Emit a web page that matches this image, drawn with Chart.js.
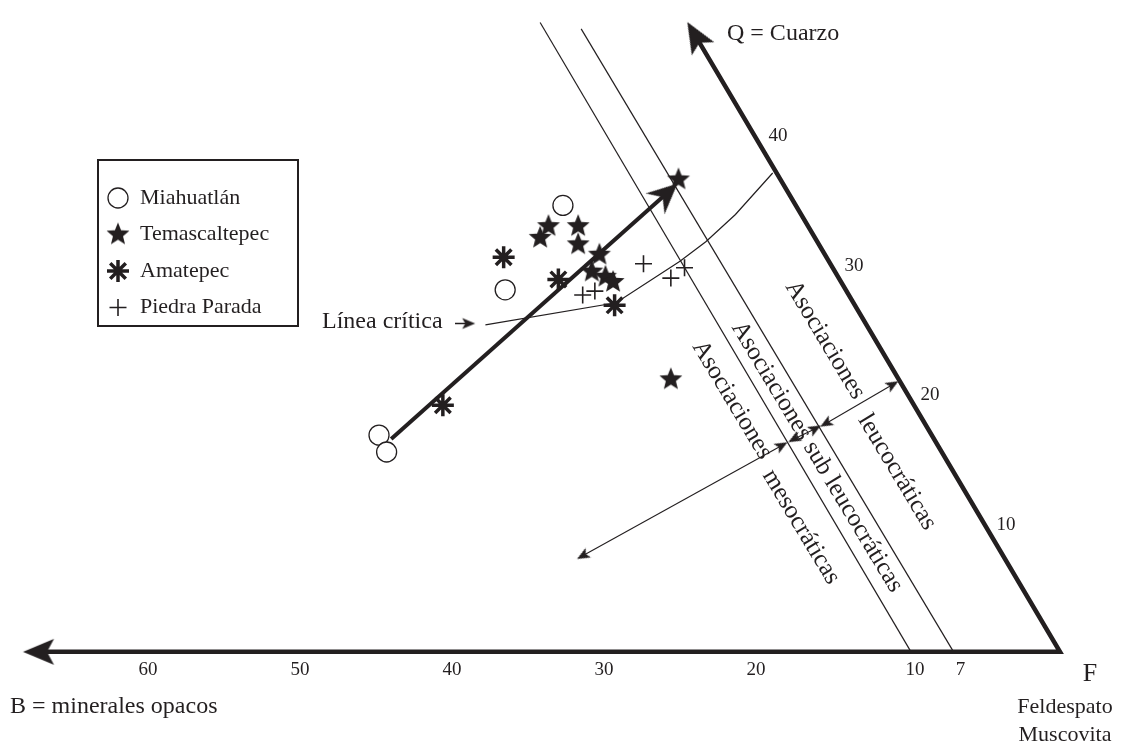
<!DOCTYPE html>
<html>
<head>
<meta charset="utf-8">
<script src="https://cdn.jsdelivr.net/npm/chart.js@4.4.1/dist/chart.umd.min.js"></script>
<style>
  html, body { margin: 0; padding: 0; background: #fff; }
  #wrap { width: 1130px; height: 750px; }
</style>
</head>
<body>
<div id="wrap"><canvas id="qbf" width="1130" height="750"></canvas></div>
<script>
// diagram units: x = horizontal position read on the B scale, y = height read on the Q scale
const miahuatlan = [{x: 32.7, y: 34.4}, {x: 36.5, y: 27.9}, {x: 44.8, y: 16.7}, {x: 44.3, y: 15.4}];
const temascaltepec = [
  {x: 33.65, y: 32.8}, {x: 34.2, y: 31.9}, {x: 31.7, y: 32.8}, {x: 31.7, y: 31.4},
  {x: 30.3, y: 30.6}, {x: 30.8, y: 29.3}, {x: 29.9, y: 28.9}, {x: 29.4, y: 28.5},
  {x: 25.1, y: 36.4}, {x: 25.6, y: 21.0}
];
const amatepec = [{x: 36.6, y: 30.4}, {x: 33.0, y: 28.7}, {x: 29.3, y: 26.7}, {x: 40.6, y: 19.0}];
const piedraParada = [{x: 27.4, y: 29.9}, {x: 31.4, y: 27.5}, {x: 30.6, y: 27.8}, {x: 25.6, y: 28.8}, {x: 24.7, y: 29.6}];

const axesBQ = [{x: 67.2, y: 0}, {x: 0, y: 0}, {x: 24.0, y: 47.5}];
const line10 = [{x: 9.8, y: 0}, {x: 34.2, y: 48.5}];
const line7 = [{x: 7.0, y: 0}, {x: 31.5, y: 48.0}];
const lineaCritica = [{x: 37.8, y: 25.2}, {x: 29.2, y: 26.9}, {x: 25.0, y: 30.1}, {x: 23.3, y: 31.6}, {x: 21.35, y: 33.7}, {x: 18.9, y: 36.9}];
const tendencia = [{x: 44.0, y: 16.4}, {x: 25.9, y: 35.3}];
const flechaCritica = [{x: 39.8, y: 25.3}, {x: 38.9, y: 25.3}];
const flechaLeuco = [{x: 15.4, y: 17.6}, {x: 11.0, y: 20.6}];
const flechaSubLeuco = [{x: 17.5, y: 16.4}, {x: 16.1, y: 17.2}];
const flechaMeso = [{x: 31.4, y: 7.4}, {x: 18.3, y: 15.9}];

const bTicks = [60, 50, 40, 30, 20, 10, 7];
const qTicks = [40, 30, 20, 10];
const legendNames = ['Miahuatlán', 'Temascaltepec', 'Amatepec', 'Piedra Parada'];

const ink = '#231f20';
const serif = '"Liberation Serif", "Times New Roman", serif';

function starImage(r) {
  const c = document.createElement('canvas');
  c.width = c.height = Math.ceil(r * 2) + 2;
  const g = c.getContext('2d');
  const m = c.width / 2;
  g.fillStyle = ink;
  g.beginPath();
  for (let i = 0; i < 10; i++) {
    const rr = i % 2 ? r * 0.44 : r;
    const a = -Math.PI / 2 + i * Math.PI / 5;
    g.lineTo(m + rr * Math.cos(a), m + rr * Math.sin(a));
  }
  g.closePath();
  g.fill();
  return c;
}

// arrowhead pointing up, its middle at the canvas centre
function arrowImage(len, half, notch) {
  const c = document.createElement('canvas');
  c.width = c.height = Math.ceil(len * 2) + 4;
  const g = c.getContext('2d');
  const m = c.width / 2;
  g.fillStyle = ink;
  g.beginPath();
  g.moveTo(m, m - len / 2);
  g.lineTo(m + half, m + len / 2);
  g.lineTo(m, m + len / 2 - notch);
  g.lineTo(m - half, m + len / 2);
  g.closePath();
  g.fill();
  return c;
}

const star = starImage(12);
const bigArrow = arrowImage(31, 13, 7);
const mainArrow = arrowImage(30, 14, 10);
const smallArrow = arrowImage(13, 5.5, 3);

const styleOf = [
  {pointStyle: 'circle', radius: 10, borderWidth: 1.3, fill: '#fff'},
  {pointStyle: star, radius: 12, borderWidth: 0, fill: ink},
  {pointStyle: 'star', radius: 11, borderWidth: 3.5, fill: ink},
  {pointStyle: 'cross', radius: 8.5, borderWidth: 1.6, fill: ink}
];

function pointSet(label, data, s) {
  return {
    label, data, order: 0,
    pointStyle: s.pointStyle, pointRadius: s.radius,
    pointBorderWidth: s.borderWidth, pointBackgroundColor: s.fill, pointBorderColor: ink
  };
}

function lineSet(data, width, extra) {
  return Object.assign({
    data, showLine: true, order: 2, borderColor: ink, borderWidth: width,
    borderCapStyle: 'butt', borderJoinStyle: 'miter', pointRadius: 0, tension: 0
  }, extra || {});
}

function arrowEnds(img, rotations, radii) {
  return {pointStyle: img, pointRadius: radii, pointRotation: rotations, order: 1};
}

const notes = {
  id: 'notes',
  afterDatasetsDraw(chart) {
    const {ctx} = chart;
    const sx = chart.scales.x, sy = chart.scales.y;
    ctx.save();
    ctx.fillStyle = ink;
    ctx.textBaseline = 'middle';

    // B scale
    ctx.textAlign = 'center';
    ctx.font = '19px ' + serif;
    bTicks.forEach(t => ctx.fillText(String(t), sx.getPixelForValue(t) + (t < 15 ? 7 : 0), sy.getPixelForValue(0) + 18));
    // Q scale, along the slanted side
    qTicks.forEach(t => ctx.fillText(String(t), sx.getPixelForValue(t / 2) + 22, sy.getPixelForValue(t) + 3));

    ctx.font = '24px ' + serif;
    ctx.textAlign = 'left';
    ctx.fillText('Q = Cuarzo', 727, 34);
    ctx.fillText('B = minerales opacos', 10, 707);
    ctx.fillText('Línea crítica', 322, 322);
    ctx.textAlign = 'center';
    ctx.font = '26px ' + serif;
    ctx.fillText('F', 1090, 674);
    ctx.font = '22px ' + serif;
    ctx.fillText('Feldespato', 1065, 707);
    ctx.fillText('Muscovita', 1065, 735);

    // zone names, written along the lines
    ctx.font = '25px ' + serif;
    [['Asociaciones', 825, 340], ['leucocráticas', 897, 472],
     ['Asociaciones sub leucocráticas', 817, 457],
     ['Asociaciones', 732, 400], ['mesocráticas', 801, 527]].forEach(([t, cx, cy]) => {
      ctx.save();
      ctx.translate(cx, cy);
      ctx.rotate(59 * Math.PI / 180);
      ctx.fillText(t, 0, 0);
      ctx.restore();
    });

    // legend box
    const box = {l: 98, t: 160, r: 298, b: 326};
    ctx.lineWidth = 2;
    ctx.strokeStyle = ink;
    ctx.strokeRect(box.l, box.t, box.r - box.l, box.b - box.t);
    ctx.font = '22px ' + serif;
    ctx.textAlign = 'left';
    legendNames.forEach((name, i) => {
      const cy = 198 + i * 36.5;
      const s = styleOf[i];
      ctx.fillStyle = s.fill;
      ctx.strokeStyle = ink;
      ctx.lineWidth = s.borderWidth;
      Chart.helpers.drawPoint(ctx, {pointStyle: s.pointStyle, radius: s.radius, rotation: 0, borderWidth: s.borderWidth}, 118, cy);
      ctx.fillStyle = ink;
      ctx.fillText(name, 140, cy);
    });
    ctx.restore();
  }
};

new Chart(document.getElementById('qbf'), {
  type: 'scatter',
  data: {
    datasets: [
      pointSet(legendNames[0], miahuatlan, styleOf[0]),
      pointSet(legendNames[1], temascaltepec, styleOf[1]),
      pointSet(legendNames[2], amatepec, styleOf[2]),
      pointSet(legendNames[3], piedraParada, styleOf[3]),
      lineSet(axesBQ, 4.5, arrowEnds(bigArrow, [-90, 0, -30.4], [10, 0, 10])),
      lineSet(line10, 1.2),
      lineSet(line7, 1.2),
      lineSet(lineaCritica, 1.2),
      lineSet(tendencia, 4, arrowEnds(mainArrow, [0, 47.8], [0, 10])),
      lineSet(flechaCritica, 1.6, arrowEnds(smallArrow, [0, 90], [0, 5])),
      lineSet(flechaLeuco, 1.1, arrowEnds(smallArrow, [-120, 60], [5, 5])),
      lineSet(flechaSubLeuco, 1.1, arrowEnds(smallArrow, [-119.4, 60.6], [5, 5])),
      lineSet(flechaMeso, 1.1, arrowEnds(smallArrow, [-119.3, 60.7], [5, 5]))
    ]
  },
  options: {
    responsive: false,
    animation: false,
    events: [],
    layout: {padding: 0},
    plugins: {legend: {display: false}, tooltip: {enabled: false}},
    scales: {
      x: {type: 'linear', reverse: true, min: -3.654, max: 68.782, display: false},
      y: {type: 'linear', min: -6.444, max: 49.111, display: false}
    }
  },
  plugins: [notes]
});
</script>
</body>
</html>
